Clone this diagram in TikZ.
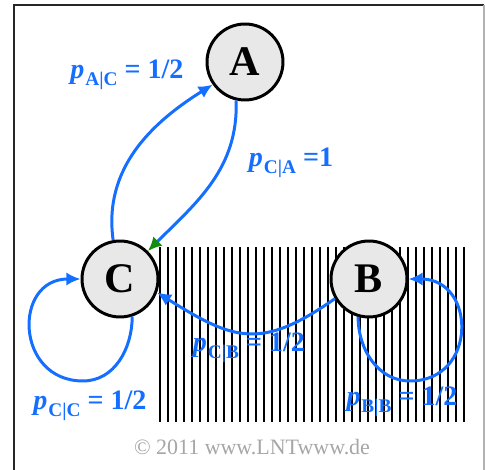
\documentclass[tikz,border=0pt]{standalone}
\usepackage{fontspec}
\setmainfont{Liberation Serif}
\usetikzlibrary{arrows.meta}
\definecolor{blu}{RGB}{20,110,255}
\definecolor{verde}{RGB}{20,140,20}
\newcommand{\pc}[1]{\textbf{\textit{p}}\kern0.5pt\raisebox{-0.5ex}{\fontsize{11}{11}\selectfont\bfseries #1}}

\begin{document}
\begin{tikzpicture}[x=0.02cm, y=0.02cm, >={Latex[length=8pt,width=7.5pt]},
    stato/.style={circle, draw, line width=1.7pt, fill=gray!18, minimum size=1.52cm, inner sep=0pt, font=\fontsize{24}{24}\selectfont\bfseries},
    freccia/.style={blu, line width=1.7pt, ->},
    etichetta/.style={blu, font=\fontsize{16}{16}\selectfont\bfseries}]
    \useasboundingbox (0,0) rectangle (485,470);
    % cornice
    \draw[line width=1.2pt, black!85] (14,0) -- (14,465) -- (484,465);
    \draw[line width=0.8pt, gray!60] (484,465) -- (484,0);
    % tratteggio verticale
    \foreach \i in {0,...,38}
        \draw[line width=1.1pt] (160+8*\i,48) -- (160+8*\i,223);
    % stati
    \node[stato] (A) at (245,408) {A};
    \node[stato] (C) at (120,191) {C};
    \node[stato] (B) at (369,191) {B};
    % punti bassi dei cappi
    \coordinate (giuC) at (83,89);
    \coordinate (giuB) at (410,89);
    % transizioni
    \draw[freccia] (C.100) to[out=98,in=212] (A.215);
    \draw[freccia, -{Latex[length=8pt,width=7.5pt,color=verde]}] (A.257) to[out=-88,in=45] (C.45);
    \draw[freccia] (B.210) to[out=215,in=-32,looseness=1.3] (C.-20);
    \draw[freccia] (C.-72) to[out=-90,in=0] (giuC) to[out=180,in=180,looseness=1.7] (C.180);
    \draw[freccia] (B.-106) to[out=-90,in=180] (giuB) to[out=0,in=0,looseness=1.7] (B.0);
    % etichette
    \node[etichetta] (pAC) at (127,395) {\pc{A|C} = 1/2};
    \node[etichetta] (pCA) at (291,307) {\pc{C|A} =1};
    \node[etichetta] (pCB) at (249,122) {\pc{C|B} = 1/2};
    \node[etichetta] (pCC) at (90,64) {\pc{C|C} = 1/2};
    \node[etichetta] (pBB) at (402,68) {\pc{B|B} = 1/2};
    \node[gray!70, font=\fontsize{12.5}{12.5}\selectfont] (copy) at (252,23) {\textcopyright{} 2011 www.LNTwww.de};
\end{tikzpicture}
\end{document}
